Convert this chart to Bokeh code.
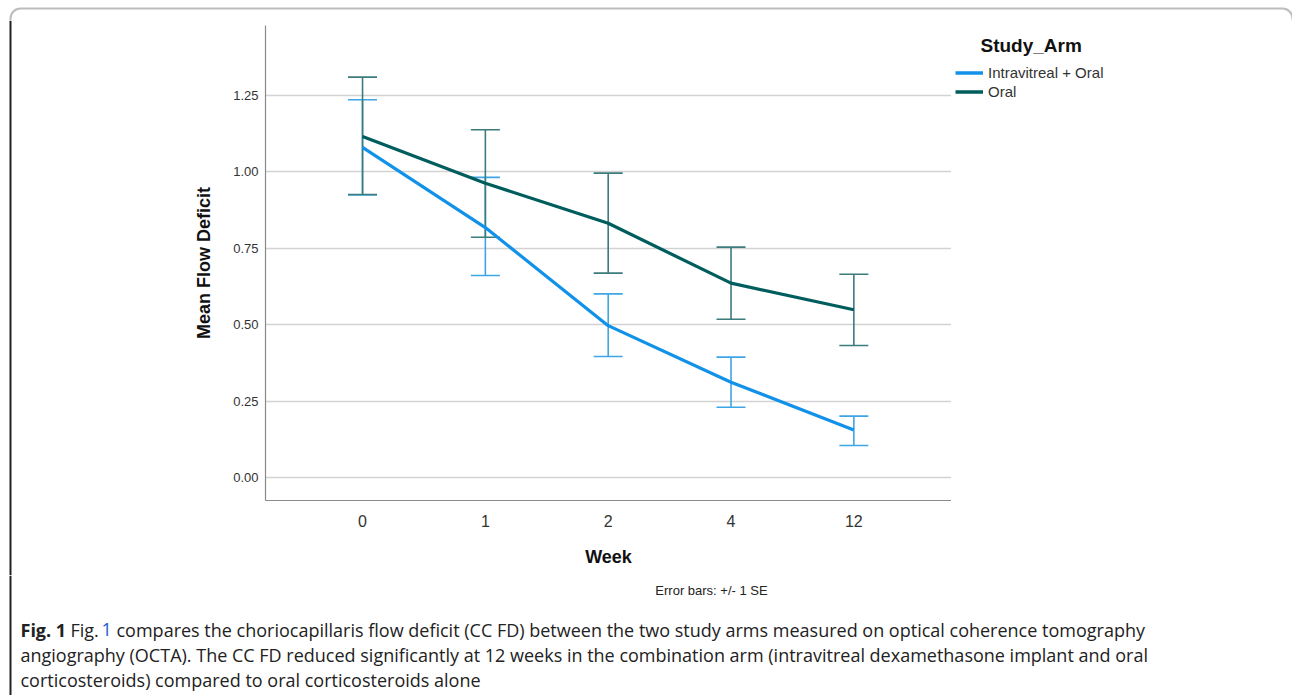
from bokeh.plotting import figure
from bokeh.layouts import column, row
from bokeh.models import (Range1d, FixedTicker, Legend, LegendItem, Label, Whisker,
                          TeeHead, ColumnDataSource, BoxAnnotation, Span, NumeralTickFormatter)
from bokeh.embed import file_html
from bokeh.resources import INLINE

# ---------------- data ----------------
weeks = ["0", "1", "2", "4", "12"]
intra_mean = [1.080, 0.818, 0.497, 0.312, 0.156]
intra_upper = [1.236, 0.982, 0.601, 0.394, 0.201]
intra_lower = [0.925, 0.661, 0.396, 0.230, 0.105]
oral_mean = [1.116, 0.963, 0.832, 0.636, 0.549]
oral_upper = [1.310, 1.138, 0.996, 0.754, 0.665]
oral_lower = [0.926, 0.786, 0.669, 0.518, 0.432]
y_ticks = [0.0, 0.25, 0.5, 0.75, 1.0, 1.25]
series_names = ["Intravitreal + Oral", "Oral"]
legend_title = "Study_Arm"
x_label = "Week"
y_label = "Mean Flow Deficit"
note = "Error bars: +/- 1 SE"
caption_bold = "Fig. 1"
caption_lines = [
    "compares the choriocapillaris flow deficit (CC FD) between the two study arms measured on optical coherence tomography",
    "angiography (OCTA). The CC FD reduced significantly at 12 weeks in the combination arm (intravitreal dexamethasone implant and oral",
    "corticosteroids) compared to oral corticosteroids alone",
]

BLUE = "#1192e8"
TEAL = "#005d5d"
BLUE_EB = "#3fa6e6"
TEAL_EB = "#3b7b7b"
FONT = "Liberation Sans"
CAP_FONT = "Open Sans"
BORDER = "#222222"

PAGE_W, PAGE_H = 1292, 695
TOP_H = 20          # strip holding the top of the rounded frame
ROW_H = 555         # chart row
CAP_H = PAGE_H - TOP_H - ROW_H
LEFT_W = 180
CHART_W = 771
LEG_W = PAGE_W - LEFT_W - CHART_W


def blank(w, h):
    f = figure(width=w, height=h, output_backend="svg", toolbar_location=None,
               x_axis_type=None, y_axis_type=None, min_border=0,
               x_range=Range1d(0, w), y_range=Range1d(h, 0),
               outline_line_color=None, background_fill_color="white",
               border_fill_color="white", frame_align=False)
    f.xgrid.visible = False
    f.ygrid.visible = False
    return f


# ---------- top strip: top edge of the rounded frame ----------
top = blank(PAGE_W, TOP_H)
top.add_layout(BoxAnnotation(left=10, right=1292, top=8, bottom=200, fill_alpha=0,
                             line_color=BORDER, line_width=2, border_radius=10))

# ---------- left strip ----------
left = blank(LEFT_W, ROW_H)
left.add_layout(Span(location=10, dimension="height", line_color=BORDER, line_width=2))

# ---------- chart ----------
xs = list(range(len(weeks)))
p = figure(width=CHART_W, height=ROW_H, output_backend="svg", toolbar_location=None,
           x_range=Range1d(-0.79, 4.795), y_range=Range1d(-0.075, 1.479),
           min_border_left=85, min_border_right=0, min_border_top=5,
           min_border_bottom=75, background_fill_color="white",
           border_fill_color="white", outline_line_color=None, frame_align=False)
p.xgrid.grid_line_color = None
p.ygrid.grid_line_color = "#d2d2d2"
p.ygrid.grid_line_width = 1.5
p.ygrid.ticker = FixedTicker(ticks=y_ticks)

p.xaxis.ticker = FixedTicker(ticks=xs)
p.xaxis.major_label_overrides = {i: w for i, w in enumerate(weeks)}
p.yaxis.ticker = FixedTicker(ticks=y_ticks)
p.yaxis.formatter = NumeralTickFormatter(format="0.00")
for ax in (p.xaxis, p.yaxis):
    ax.axis_line_color = "#8a8a8a"
    ax.axis_line_width = 1.2
    ax.major_tick_line_color = None
    ax.minor_tick_line_color = None
    ax.major_tick_out = 0
    ax.major_tick_in = 0
    ax.major_label_text_font = FONT
    ax.major_label_text_color = "#333333"
    ax.axis_label_text_font = FONT
    ax.axis_label_text_font_style = "bold"
    ax.axis_label_text_color = "#111111"
p.xaxis.axis_label = x_label
p.xaxis.major_label_text_font_size = "16px"
p.xaxis.axis_label_text_font_size = "18px"
p.xaxis.major_label_standoff = 14
p.xaxis.axis_label_standoff = 17
p.yaxis.axis_label = y_label
p.yaxis.major_label_text_font_size = "13px"
p.yaxis.axis_label_text_font_size = "18px"
p.yaxis.major_label_standoff = 7
p.yaxis.axis_label_standoff = 16

src_i = ColumnDataSource(dict(x=xs, y=intra_mean, upper=intra_upper, lower=intra_lower))
src_o = ColumnDataSource(dict(x=xs, y=oral_mean, upper=oral_upper, lower=oral_lower))
for src, col in ((src_i, BLUE_EB), (src_o, TEAL_EB)):
    p.add_layout(Whisker(base="x", upper="upper", lower="lower", source=src,
                         line_color=col, line_width=1.6, level="underlay",
                         upper_head=TeeHead(size=29, line_color=col, line_width=1.6),
                         lower_head=TeeHead(size=29, line_color=col, line_width=1.6)))
p.line("x", "y", source=src_i, line_color=BLUE, line_width=3.2)
p.line("x", "y", source=src_o, line_color=TEAL, line_width=3.2)

# ---------- legend panel ----------
lg = figure(width=LEG_W, height=ROW_H, output_backend="svg", toolbar_location=None,
            x_axis_type=None, y_axis_type=None, min_border=0,
            x_range=Range1d(0, LEG_W), y_range=Range1d(ROW_H, 0),
            outline_line_color=None, background_fill_color="white",
            border_fill_color="white", frame_align=False)
lg.xgrid.visible = False
lg.ygrid.visible = False
# legend proxies (kept outside the visible range of this panel)
li = lg.line(x=[-20, -10], y=[-20, -10], line_color=BLUE, line_width=3.5)
lo = lg.line(x=[-20, -10], y=[-20, -10], line_color=TEAL, line_width=3.5)
legend = Legend(items=[LegendItem(label=series_names[0], renderers=[li]),
                       LegendItem(label=series_names[1], renderers=[lo])],
                location=(4, ROW_H - 81), orientation="vertical",
                glyph_width=28, glyph_height=19, label_height=19, label_standoff=5,
                padding=0, spacing=0, margin=0, border_line_color=None,
                background_fill_alpha=0, label_text_font=FONT,
                label_text_font_size="15px", label_text_color="#333333")
lg.add_layout(legend, "center")
lg.add_layout(Label(x=29, y=25, text=legend_title, text_font=FONT,
                    text_font_size="19px", text_font_style="bold",
                    text_color="#111111", text_baseline="middle"))

# ---------- caption panel ----------
cap = blank(PAGE_W, CAP_H)
cap.add_layout(Span(location=10, dimension="height", line_color=BORDER, line_width=2))
y0 = TOP_H + ROW_H


def lab(f, text, x, y, size, style="normal", color="#222222", font=CAP_FONT, align="left"):
    f.add_layout(Label(x=x, y=y, text=text, text_font=font, text_font_size=size,
                       text_font_style=style, text_color=color, text_align=align,
                       text_baseline="middle"))


lab(cap, note, 711, 590 - y0, "13px", font=FONT, align="center")
lab(cap, caption_bold, 20, 629 - y0, "18px", "bold")
lab(cap, "Fig.", 70, 629 - y0, "18px")
lab(cap, "1", 101, 629 - y0, "18px", color="#1a5ad0")
lab(cap, caption_lines[0], 116, 629 - y0, "18px")
lab(cap, caption_lines[1], 20, 654 - y0, "18px")
lab(cap, caption_lines[2], 20, 679 - y0, "18px")

layout = column(top, row(left, p, lg, spacing=0), cap, spacing=0)
open("out.html", "w").write(file_html(layout, INLINE))
